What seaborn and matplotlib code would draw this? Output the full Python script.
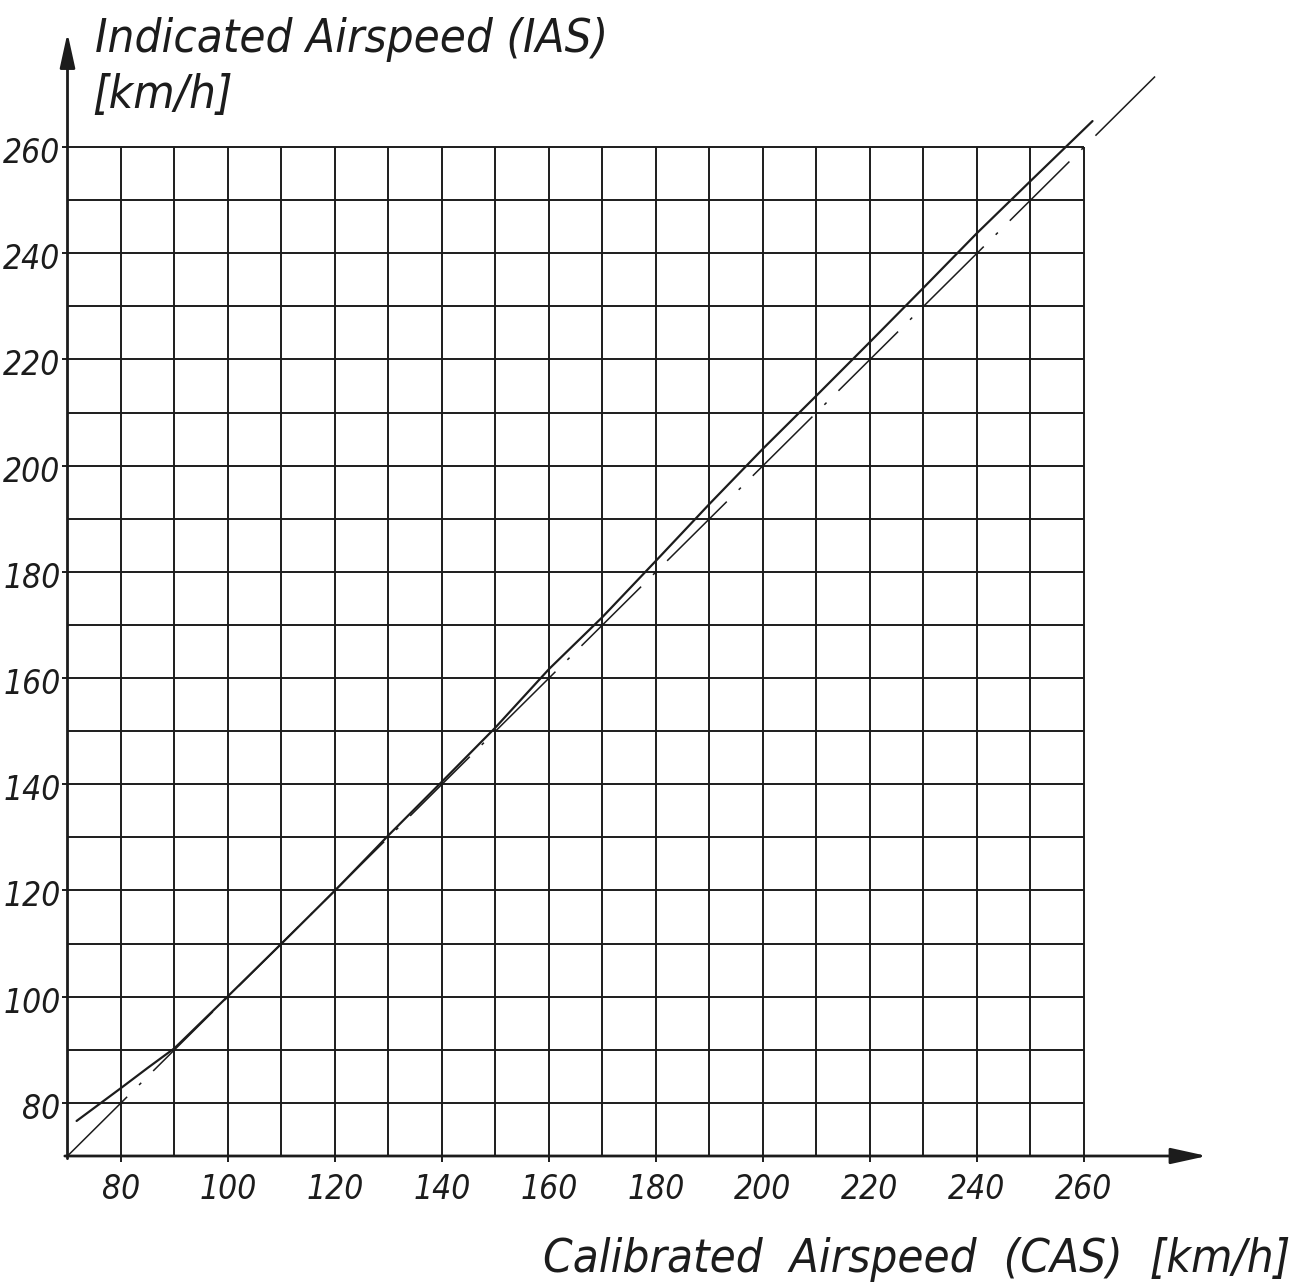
import os
import matplotlib
matplotlib.use("Agg")
import matplotlib.pyplot as plt
import matplotlib.font_manager as fm
import matplotlib.transforms as mtransforms
import pandas as pd
import seaborn as sns

# ---- data ----
cas = [71.7, 80, 85, 90, 95, 100, 110, 120, 130, 140, 150, 160, 170, 180,
       190, 200, 210, 220, 230, 240, 250, 261.6]
ias = [76.6, 82.8, 86.6, 90.3, 95.2, 100.1, 110.0, 120.0, 130.4, 140.5, 150.7,
       161.7, 171.5, 182.1, 192.8, 203.2, 213.2, 223.3, 233.5, 243.8, 253.6, 264.9]
ref_cas = [70, 273.5]
ref_ias = [70, 273.5]
x_ticks = [80, 100, 120, 140, 160, 180, 200, 220, 240, 260]
y_ticks = [80, 100, 120, 140, 160, 180, 200, 220, 240, 260]
grid_vals = [80, 90, 100, 110, 120, 130, 140, 150, 160, 170, 180, 190, 200,
             210, 220, 230, 240, 250, 260]
x_label = "Calibrated  Airspeed  (CAS)  [km/h]"
y_label_1 = "Indicated Airspeed (IAS)"
y_label_2 = "[km/h]"

sns.set_theme(style="white")

def find_font(names):
    for n in names:
        for f in fm.fontManager.ttflist:
            if os.path.basename(f.fname).lower() == n.lower():
                return f.fname
    return None

fpath = find_font(["LiberationSansNarrow-Italic.ttf",
                   "DejaVuSansCondensed-Oblique.ttf",
                   "Roboto-LightItalic.ttf",
                   "DejaVuSans-Oblique.ttf"])

def fp(size):
    if fpath:
        return fm.FontProperties(fname=fpath, size=size)
    return fm.FontProperties(family="DejaVu Sans", style="italic", size=size)

ink = "#1c1c1c"

fig = plt.figure(figsize=(13.14, 12.84), dpi=100)
ax = fig.add_axes([0.05137, 0.09969, 0.8672, 0.8726])
ax.set_xlim(70, 283)
ax.set_ylim(70, 281)
for s in ax.spines.values():
    s.set_visible(False)

# grid
ax.vlines(grid_vals, 70, 260, color=ink, lw=1.4, zorder=1)
ax.hlines(grid_vals, 70, 260, color=ink, lw=1.4, zorder=1)

# axes with arrows
arrow_style = "-|>,head_length=1.0,head_width=0.22"
ax.annotate("", xy=(283, 70), xytext=(69.5, 70),
            arrowprops=dict(arrowstyle=arrow_style, lw=2.0, color=ink,
                            mutation_scale=22, shrinkA=0, shrinkB=0),
            annotation_clip=False, zorder=3)
ax.annotate("", xy=(70, 281.5), xytext=(70, 69.5),
            arrowprops=dict(arrowstyle=arrow_style, lw=2.0, color=ink,
                            mutation_scale=21, shrinkA=0, shrinkB=0),
            annotation_clip=False, zorder=3)

df_curve = pd.DataFrame({"CAS": cas, "IAS": ias})
df_ref = pd.DataFrame({"CAS": ref_cas, "IAS": ref_ias})

sns.lineplot(data=df_ref, x="CAS", y="IAS", ax=ax, color=ink, lw=1.1,
             linestyle=(0, (55, 11, 2, 11)), sort=False, zorder=4)
sns.lineplot(data=df_curve, x="CAS", y="IAS", ax=ax, color=ink, lw=1.6,
             sort=False, zorder=5)

ax.set_xlabel("")
ax.set_ylabel("")
ax.set_xticks(x_ticks)
ax.set_yticks(y_ticks)
ax.set_xticklabels([str(v) for v in x_ticks], fontproperties=fp(24))
ax.set_yticklabels([str(v) for v in y_ticks], fontproperties=fp(24))
ax.tick_params(axis="x", length=4, width=1.4, pad=8, colors=ink, bottom=True)
ax.tick_params(axis="y", length=4.5, width=1.4, pad=0.5, colors=ink, left=True)

# y tick labels sit slightly below their grid line in the reference
shift = mtransforms.ScaledTranslation(0, -3 / 100, fig.dpi_scale_trans)
for lab in ax.get_yticklabels():
    lab.set_transform(lab.get_transform() + shift)

fig.text(95 / 1314, 1 - 52 / 1284, y_label_1, fontproperties=fp(34),
         color=ink, ha="left", va="baseline")
fig.text(92 / 1314, 1 - 108 / 1284, y_label_2, fontproperties=fp(34),
         color=ink, ha="left", va="baseline")
fig.text(1290 / 1314, 1 - 1272 / 1284, x_label, fontproperties=fp(34),
         color=ink, ha="right", va="baseline")

fig.savefig("out.png", dpi=100, facecolor="white")
